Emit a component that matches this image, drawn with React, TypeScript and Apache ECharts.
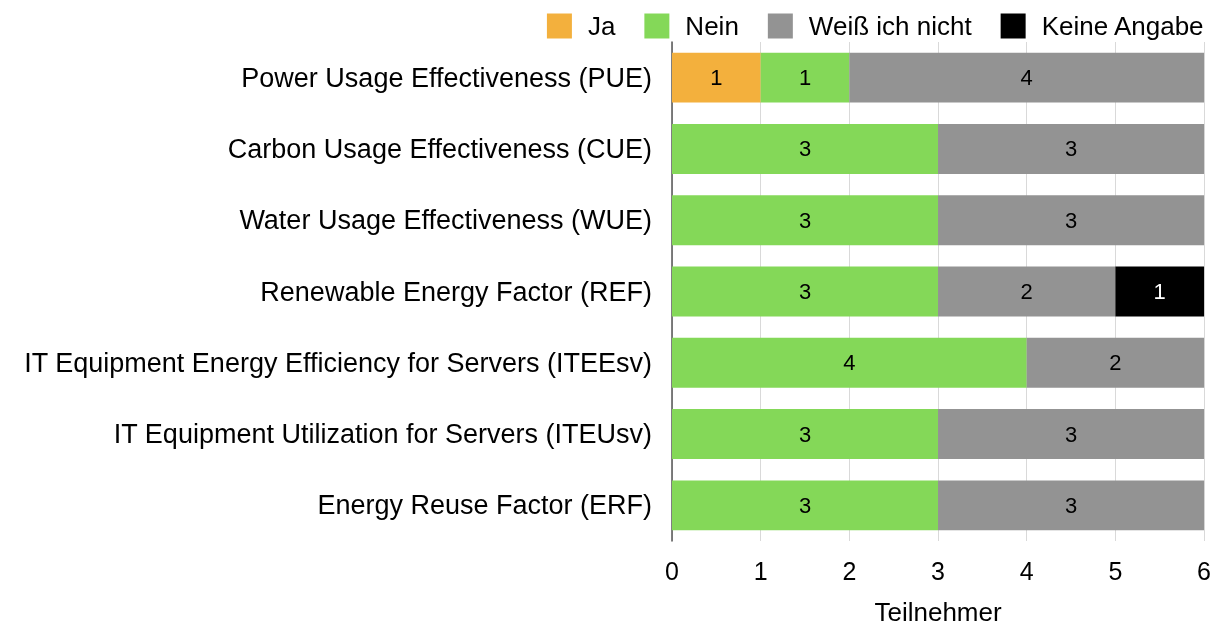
import React, { useEffect, useRef } from "react";
import * as echarts from "echarts";

const categories = [
  "Power Usage Effectiveness (PUE)",
  "Carbon Usage Effectiveness (CUE)",
  "Water Usage Effectiveness (WUE)",
  "Renewable Energy Factor (REF)",
  "IT Equipment Energy Efficiency for Servers (ITEEsv)",
  "IT Equipment Utilization for Servers (ITEUsv)",
  "Energy Reuse Factor (ERF)",
];
const ja = [1, 0, 0, 0, 0, 0, 0];
const nein = [1, 3, 3, 3, 4, 3, 3];
const weissNicht = [4, 3, 3, 2, 2, 3, 3];
const keineAngabe = [0, 0, 0, 1, 0, 0, 0];
const seriesNames = ["Ja", "Nein", "Weiß ich nicht", "Keine Angabe"];
const colors = ["#F3B03D", "#84D858", "#939393", "#000000"];

export default function App() {
  const ref = useRef<HTMLDivElement>(null);
  useEffect(() => {
    if (!ref.current) return;
    const chart = echarts.init(ref.current, undefined, { renderer: "svg" });
    const font = "Liberation Sans, Arial, sans-serif";
    const values = [ja, nein, weissNicht, keineAngabe];
    chart.setOption({
      animation: false,
      textStyle: { fontFamily: font },
      legend: {
        top: 8,
        right: 4,
        itemWidth: 25,
        itemHeight: 25,
        itemGap: 29,
        icon: "rect",
        textStyle: {
          fontSize: 26,
          color: "#000",
          fontFamily: font,
          padding: [0, 0, 0, 11],
        },
        data: seriesNames,
      },
      grid: { left: 672, right: 2, top: 42, bottom: 88, containLabel: false },
      xAxis: {
        type: "value",
        min: 0,
        max: 6,
        interval: 1,
        name: "Teilnehmer",
        nameLocation: "middle",
        nameGap: 58,
        nameTextStyle: { fontSize: 26, color: "#000", fontFamily: font },
        axisLine: { show: false },
        axisTick: { show: false },
        axisLabel: { fontSize: 25, color: "#000", margin: 17, fontFamily: font },
        splitLine: { lineStyle: { color: "#D9D9D9", width: 1 } },
      },
      yAxis: {
        type: "category",
        data: categories,
        inverse: true,
        axisLine: { lineStyle: { color: "#555", width: 1.5 } },
        axisTick: { show: false },
        axisLabel: { fontSize: 27, color: "#000", margin: 20, fontFamily: font },
      },
      series: seriesNames.map((name, i) => ({
        name,
        type: "bar",
        stack: "total",
        barCategoryGap: "30%",
        itemStyle: { color: colors[i] },
        label: {
          show: true,
          position: "inside",
          fontSize: 22,
          color: i === 3 ? "#fff" : "#000",
          fontFamily: font,
          formatter: (p: any) => (p.value ? String(p.value) : ""),
        },
        data: values[i],
      })),
    });
    return () => chart.dispose();
  }, []);
  return (
    <div
      ref={ref}
      style={{ position: "fixed", left: 0, top: 0, width: 1214, height: 630 }}
    />
  );
}
